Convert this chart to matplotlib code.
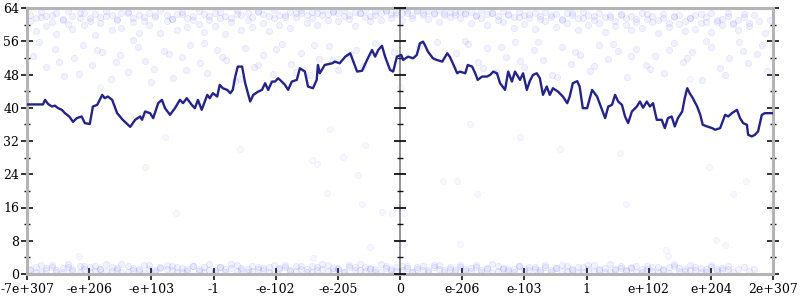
import matplotlib
matplotlib.use("Agg")
import matplotlib.pyplot as plt
import numpy as np

# ---------------- data ----------------
x_tick_labels = ["-7e+307", "-e+206", "-e+103", "-1", "-e-102", "-e-205", "0",
                 "e-206", "e-103", "1", "e+102", "e+204", "2e+307"]
y_ticks_major = [0, 8, 16, 24, 32, 40, 48, 56, 64]
y_ticks_minor = [4, 12, 20, 28, 36, 44, 52, 60]

# line (x in tick-index units along the transformed axis)
line_x = [0, 0.257, 0.29, 0.34, 0.40, 0.45, 0.50, 0.56, 0.61, 0.68, 0.74, 0.80, 0.88, 0.93,
          1.01, 1.06, 1.13, 1.21, 1.25, 1.30, 1.37, 1.45, 1.54, 1.66, 1.74, 1.82, 1.85, 1.90,
          1.98, 2.03, 2.11, 2.17, 2.22, 2.30, 2.38, 2.46, 2.51, 2.57, 2.65, 2.70, 2.75, 2.81,
          2.90, 2.94, 2.99, 3.06, 3.10, 3.15, 3.22, 3.27, 3.31, 3.35, 3.39, 3.46, 3.51, 3.59,
          3.64, 3.72, 3.78, 3.83, 3.88, 3.94, 3.99, 4.04, 4.07, 4.15, 4.20, 4.26, 4.34, 4.39,
          4.47, 4.52, 4.60, 4.66, 4.68, 4.71, 4.79, 4.91, 4.95, 5.03, 5.12, 5.20, 5.24, 5.31,
          5.39, 5.47, 5.55, 5.60, 5.65, 5.71, 5.76, 5.84, 5.89, 5.95, 6.02, 6.05, 6.13, 6.21,
          6.27, 6.32, 6.37, 6.40, 6.45, 6.53, 6.59, 6.68, 6.76, 6.80, 6.85, 6.92, 6.96, 7.05,
          7.09, 7.16, 7.21, 7.25, 7.32, 7.40, 7.45, 7.50, 7.56, 7.61, 7.69, 7.74, 7.80, 7.85,
          7.93, 7.98, 8.04, 8.09, 8.14, 8.20, 8.25, 8.30, 8.36, 8.41, 8.46, 8.54, 8.62, 8.69,
          8.73, 8.78, 8.85, 8.89, 8.94, 9.01, 9.09, 9.17, 9.25, 9.30, 9.35, 9.41, 9.46, 9.51,
          9.57, 9.62, 9.67, 9.73, 9.81, 9.86, 9.91, 9.97, 10.02, 10.07, 10.13, 10.21, 10.26,
          10.31, 10.37, 10.42, 10.47, 10.54, 10.58, 10.62, 10.66, 10.71, 10.78, 10.83, 10.87,
          10.94, 11.02, 11.07, 11.15, 11.23, 11.28, 11.34, 11.42, 11.47, 11.52, 11.58, 11.60,
          11.66, 11.71, 11.76, 11.82, 11.87, 12.0]
line_y = [40.8, 40.8, 41.9, 40.9, 40.3, 40.5, 39.9, 39.5, 38.7, 37.9, 36.6, 37.5, 37.9, 36.3,
          36.1, 40.3, 40.7, 43.1, 42.3, 42.7, 41.9, 38.7, 37.1, 35.4, 37.1, 37.9, 37.1, 39.1,
          38.7, 37.5, 41.1, 41.9, 39.9, 38.3, 39.9, 41.9, 41.1, 42.3, 40.7, 39.9, 41.9, 39.5,
          43.1, 42.3, 43.5, 42.7, 45.5, 44.7, 44.3, 43.5, 44.3, 47.5, 49.9, 49.9, 45.9, 41.5,
          43.1, 43.9, 44.3, 45.9, 44.3, 46.3, 46.3, 47.1, 46.7, 45.5, 44.3, 46.3, 46.7, 49.5,
          48.7, 45.1, 44.7, 46.7, 50.3, 48.3, 50.3, 50.7, 51.1, 50.7, 52.3, 53.1, 51.5, 48.7,
          48.9, 51.5, 53.9, 52.3, 53.9, 54.9, 52.3, 49.1, 48.7, 52.3, 52.7, 51.5, 52.3, 51.9,
          52.7, 55.5, 55.9, 55.1, 53.5, 51.9, 51.5, 51.1, 53.1, 52.3, 50.7, 48.3, 48.7, 48.3,
          50.3, 49.9, 48.3, 46.7, 47.5, 47.5, 47.9, 48.7, 48.3, 45.9, 44.3, 48.7, 46.3, 48.7,
          46.7, 48.3, 44.3, 46.5, 47.9, 48.3, 47.1, 43.1, 45.1, 43.1, 44.7, 43.9, 42.7, 41.1,
          42.7, 45.9, 46.4, 45.1, 39.9, 39.9, 44.3, 42.7, 39.5, 37.5, 40.3, 40.7, 43.1, 41.5,
          40.7, 37.9, 36.3, 39.1, 40.3, 41.5, 40.0, 41.5, 40.3, 41.1, 37.1, 37.1, 35.1,
          37.5, 37.9, 35.5, 37.5, 39.1, 42.3, 44.7, 43.5, 42.3, 40.3, 38.3, 35.9,
          35.5, 35.1, 34.7, 35.1, 38.3, 37.9, 38.7, 39.5, 37.5, 36.3, 35.9, 33.5,
          33.1, 33.5, 34.3, 38.3, 38.7, 38.7]

# scattered points: dense band near the top
top_x = [0.05, 0.15, 0.22, 0.31, 0.4, 0.47, 0.58, 0.66, 0.73, 0.85, 0.92, 1.02, 1.1, 1.18, 1.27,
         1.36, 1.45, 1.52, 1.63, 1.7, 1.8, 1.88, 1.97, 2.06, 2.14, 2.25, 2.33, 2.41, 2.5, 2.58,
         2.67, 2.76, 2.84, 2.93, 3.02, 3.1, 3.19, 3.28, 3.37, 3.45, 3.55, 3.62, 3.71, 3.8, 3.9,
         3.97, 4.06, 4.15, 4.23, 4.33, 4.41, 4.5, 4.58, 4.67, 4.75, 4.84, 4.92, 5.01, 5.1, 5.18,
         5.27, 5.35, 5.44, 5.52, 5.6, 5.69, 5.77, 5.86, 5.94, 6.03, 6.11, 6.2, 6.28, 6.37, 6.45,
         6.54, 6.62, 6.71, 6.8, 6.88, 6.97, 7.05, 7.14, 7.22, 7.31, 7.4, 7.48, 7.57, 7.65, 7.74,
         7.83, 7.91, 8.0, 8.08, 8.17, 8.26, 8.34, 8.43, 8.51, 8.6, 8.69, 8.77, 8.86, 8.94, 9.03,
         9.12, 9.2, 9.29, 9.37, 9.46, 9.55, 9.63, 9.72, 9.8, 9.89, 9.98, 10.06, 10.15, 10.23,
         10.32, 10.41, 10.49, 10.58, 10.66, 10.75, 10.84, 10.92, 11.01, 11.1, 11.18, 11.27,
         11.35, 11.44, 11.53, 11.61, 11.7, 11.78, 11.87, 11.95]
top_y1 = [60.8, 58.4, 61.9, 59.6, 62.4, 57.8, 61.1, 60.2, 58.9, 62.7, 59.9, 61.6, 57.5, 60.4,
          62.1, 58.7, 61.3, 59.2, 62.9, 60.6, 58.1, 61.8, 59.8, 62.3, 57.9, 60.9, 61.4, 58.6,
          62.6, 59.5, 61.0, 60.1, 58.3, 62.0, 59.7, 61.7, 57.7, 60.7, 62.5, 58.8, 61.2, 59.4,
          63.0, 60.3, 58.5, 61.5, 60.0, 62.2, 59.1, 61.9, 62.8, 60.5, 61.6, 59.9, 62.4, 61.1,
          63.1, 60.8, 62.0, 61.4, 59.6, 62.7, 61.8, 60.9, 62.3, 61.2, 63.2, 61.7, 62.5, 61.0,
          62.9, 61.6, 63.3, 62.2, 61.3, 62.8, 60.7, 62.4, 61.9, 63.0, 61.5, 62.6, 60.4, 62.1,
          61.7, 59.8, 62.8, 61.2, 60.6, 62.3, 59.3, 61.8, 60.1, 62.6, 58.9, 61.4, 60.8, 62.2,
          59.5, 61.1, 60.3, 62.7, 58.6, 61.6, 59.9, 62.0, 60.5, 58.2, 61.9, 59.7, 62.4, 60.0,
          58.8, 61.3, 59.2, 62.5, 60.7, 57.9, 61.7, 59.4, 62.1, 60.2, 58.5, 61.5, 59.0, 62.6,
          60.6, 58.3, 61.2, 59.8, 62.9, 60.4, 58.7, 61.8, 59.6, 62.3, 60.9, 58.1, 61.0]
top_y2 = [62.4, 61.7, 63.0, 62.1, 60.6, 62.8, 61.3, 63.2, 62.0, 61.5, 62.9, 60.9, 62.5, 61.8,
          63.3, 62.2, 61.1, 62.7, 63.1, 61.6, 62.4, 60.8, 62.9, 61.9, 63.4, 62.3, 61.4, 62.6,
          63.0, 61.7, 62.1, 63.3, 62.5, 61.2, 62.8, 63.1, 62.0, 61.6, 63.4, 62.4, 62.9, 61.8,
          63.2, 62.6, 62.1, 63.5, 62.3, 61.9, 63.0, 62.7, 63.4, 62.2, 63.1, 62.8, 63.5, 62.5,
          63.2, 62.9, 63.6, 62.4, 63.0, 62.7, 63.5, 62.1, 63.3, 62.9, 63.6, 62.6, 63.1, 62.8,
          63.5, 62.3, 63.4, 62.9, 63.2, 62.5, 63.6, 62.7, 63.0, 62.4, 63.3, 62.8, 63.1, 62.2,
          63.5, 62.6, 62.9, 62.0, 63.2, 62.5, 61.8, 63.0, 62.3, 61.6, 62.8, 62.1, 63.1, 61.9,
          62.6, 61.4, 62.9, 62.2, 61.7, 63.0, 62.4, 61.1, 62.7, 61.8, 62.3, 60.9, 62.5, 61.5,
          62.0, 60.7, 62.8, 61.3, 62.1, 61.0, 62.6, 60.5, 61.9, 62.4, 60.8, 61.6, 62.2, 60.3,
          61.8, 62.7, 60.6, 61.4, 62.0, 60.1, 61.2, 62.5, 60.4]

# sparser band between about 46 and 56
mid_x = [0.1, 0.3, 0.45, 0.6, 0.75, 0.9, 1.05, 1.2, 1.35, 1.5, 1.62, 1.78, 1.9, 2.05, 2.2, 2.35,
         2.5, 2.62, 2.78, 2.9, 3.05, 3.2, 3.35, 3.5, 3.65, 3.8, 3.95, 4.1, 4.25, 4.4, 4.55, 4.7,
         4.85, 5.0, 5.2, 5.4, 5.6, 5.9, 6.3, 6.6, 6.9, 7.1, 7.25, 7.4, 7.55, 7.7, 7.85, 8.0,
         8.15, 8.3, 8.45, 8.6, 8.75, 8.9, 9.05, 9.2, 9.35, 9.5, 9.65, 9.8, 9.95, 10.1, 10.25,
         10.4, 10.55, 10.7, 10.85, 11.0, 11.15, 11.3, 11.45, 11.6, 11.75, 11.9]
mid_y = [52.5, 49.8, 54.1, 47.6, 51.9, 55.2, 50.3, 53.4, 46.9, 52.8, 48.7, 54.6, 51.2, 49.4,
         53.7, 47.2, 52.1, 55.0, 50.8, 48.3, 53.9, 51.5, 46.4, 54.3, 49.9, 52.7, 48.1, 55.4,
         50.6, 53.2, 47.8, 51.7, 54.8, 49.2, 52.9, 50.1, 55.6, 53.5, 54.9, 55.8, 53.1, 55.3,
         50.9, 54.4, 48.6, 52.3, 55.7, 49.7, 53.8, 51.4, 47.9, 54.7, 50.5, 52.6, 48.9, 55.1,
         51.8, 53.6, 47.4, 54.2, 50.2, 52.4, 48.4, 55.5, 51.0, 53.3, 46.7, 54.5, 49.6, 52.0,
         55.9, 50.7, 53.0, 48.8]
mid2_x = [0.2, 0.52, 0.83, 1.13, 1.43, 1.7, 2.0, 2.28, 2.56, 2.85, 3.13, 3.42, 3.72, 4.0, 4.32,
          4.62, 4.93, 5.3, 7.05, 7.33, 7.62, 7.93, 8.22, 8.52, 8.82, 9.12, 9.42, 9.72, 10.02,
          10.32, 10.62, 10.92, 11.22, 11.52, 11.82]
mid2_y = [55.7, 50.9, 48.2, 54.0, 51.1, 56.2, 46.2, 53.0, 49.0, 55.5, 52.2, 47.0, 50.4, 54.2,
          48.5, 55.2, 51.6, 53.9, 56.0, 49.5, 54.6, 51.3, 55.8, 47.3, 53.4, 50.0, 55.3, 52.5,
          49.3, 54.0, 51.9, 56.1, 48.0, 53.7, 55.0]

# dense band near zero (same x positions as top band)
bot_y1 = [1.2, 0.6, 2.1, 0.9, 1.7, 0.4, 1.4, 2.3, 0.8, 1.9, 1.1, 0.5, 2.0, 1.3, 0.7, 1.8, 1.0,
          2.4, 0.6, 1.5, 1.2, 0.3, 2.2, 0.9, 1.6, 1.1, 2.0, 0.5, 1.4, 0.8, 1.9, 1.3, 0.6, 2.3,
          1.0, 1.7, 0.4, 1.5, 2.1, 0.9, 1.2, 0.7, 1.8, 1.4, 0.5, 2.2, 1.1, 1.6, 0.8, 2.0, 1.3,
          0.6, 1.9, 1.0, 2.4, 0.7, 1.5, 1.2, 0.4, 2.1, 1.6, 0.9, 1.8, 1.1, 0.5, 2.3, 1.4, 0.8,
          1.7, 1.0, 2.0, 0.6, 1.3, 1.9, 0.9, 2.2, 1.2, 0.5, 1.6, 1.0, 2.1, 0.7, 1.4, 1.8, 0.4,
          1.1, 2.3, 0.8, 1.5, 1.2, 0.6, 2.0, 1.3, 0.9, 1.7, 0.5, 2.2, 1.0, 1.4, 0.7, 1.9, 1.1,
          0.4, 1.6, 2.1, 0.8, 1.3, 0.6, 2.4, 1.0, 1.5, 0.9, 1.8, 0.5, 1.2, 2.0, 0.7, 1.6, 1.1,
          0.3, 1.9, 1.4, 0.8, 2.2, 1.0, 1.5, 0.6, 1.7, 1.2, 0.9, 2.0, 0.5, 1.3, 1.8, 0.7, 1.1]
bot_y2 = [0.9, 1.8, 0.4, 1.5, 2.2, 1.0, 0.6, 1.7, 1.3, 0.5, 2.0, 1.6, 0.8, 1.1, 2.3, 0.7, 1.4,
          0.5, 1.9, 1.0, 0.8, 2.1, 1.2, 0.6, 1.5, 2.2, 0.9, 1.7, 0.4, 1.3, 2.0, 0.7, 1.6, 1.0,
          0.5, 1.8, 1.2, 2.4, 0.8, 1.4, 0.6, 2.0, 1.1, 0.9, 1.7, 0.5, 1.5, 2.2, 1.0, 0.7, 1.9,
          1.3, 0.4, 1.6, 1.1, 2.1, 0.8, 1.4, 0.6, 1.8, 1.0, 2.3, 0.7, 1.5, 1.2, 0.5, 1.9, 1.1,
          0.8, 2.0, 1.4, 0.6, 1.7, 1.0, 0.4, 1.6, 2.1, 0.9, 1.3, 0.5, 1.8, 1.2, 0.7, 2.2, 1.0,
          1.5, 0.6, 1.9, 1.3, 0.8, 1.1, 2.0, 0.5, 1.6, 1.2, 0.9, 1.8, 0.4, 1.4, 2.1, 0.7, 1.0,
          1.7, 0.6, 1.3, 2.2, 0.9, 1.5, 0.5, 1.1, 1.9, 0.8, 1.4, 2.0, 0.6, 1.2, 1.7, 0.4, 1.0,
          1.6, 2.3, 0.7, 1.3, 0.9, 1.8, 0.5, 1.1, 2.1, 0.8, 1.5, 1.2]

# isolated points
iso_x = [1.90, 2.40, 0.84, 4.58, 4.66, 5.08, 5.32, 4.83, 5.39, 5.71, 5.87, 6.06, 6.06, 5.52,
         4.60, 6.69, 6.92, 7.24, 6.97, 9.54, 10.97, 9.63, 11.36, 11.57, 11.08, 11.23, 10.28,
         10.31, 4.87, 5.44, 3.43, 7.93, 7.13, 6.00, 8.57, 2.22, 1.17, 10.66]
iso_y = [25.7, 14.7, 4.3, 27.4, 26.5, 28.2, 23.8, 19.5, 16.8, 14.9, 14.7, 14.7, 7.2, 6.5,
         3.8, 22.4, 22.4, 19.2, 7.2, 29.0, 25.7, 16.8, 19.2, 22.4, 8.2, 7.0, 5.8, 4.3, 35.0,
         31.0, 30.0, 33.0, 36.0, 45.0, 30.0, 33.0, 45.0, 47.0]

# ---------------- plot ----------------
plt.rcParams['font.family'] = ['DejaVu Serif']
fig = plt.figure(figsize=(8, 3), dpi=100)
ax = fig.add_axes([27 / 800, 1 - 274 / 300, 746 / 800, 266 / 300])

pt_face = (0.15, 0.15, 1.0, 0.06)
pt_edge = (0.15, 0.15, 1.0, 0.09)


def pts(xs, ys, face=pt_face, edge=pt_edge):
    n = min(len(xs), len(ys))
    ax.scatter(xs[:n], ys[:n], s=20, facecolor=face, edgecolor=edge,
               linewidths=0.6, zorder=2, clip_on=True)


pts(top_x, top_y1)
pts(top_x, top_y2)
pts(mid_x, mid_y)
pts(mid2_x, mid2_y)
pts(top_x, bot_y1)
pts(top_x, bot_y2)
pts(iso_x, iso_y, face=(0.15, 0.15, 1.0, 0.035), edge=(0.15, 0.15, 1.0, 0.05))

# central vertical axis at x = 0
ax.axvline(6, color="#7f7f7f", lw=1.2, zorder=3)
ax.plot([6] * len(y_ticks_major), y_ticks_major, ls="none", marker="_", ms=9,
        mew=1.3, color="#111111", zorder=4, clip_on=False)
ax.plot([6] * len(y_ticks_minor), y_ticks_minor, ls="none", marker="_", ms=5,
        mew=1.0, color="#111111", zorder=4, clip_on=False)

n = min(len(line_x), len(line_y))
ax.plot(line_x[:n], line_y[:n], color="#23238a", lw=1.7, zorder=5,
        solid_joinstyle="round")

ax.set_xlim(0, 12)
ax.set_ylim(0, 64)
ax.set_xticks(range(len(x_tick_labels)))
ax.set_xticklabels(x_tick_labels)
ax.set_yticks(y_ticks_major)
ax.set_yticks(y_ticks_minor, minor=True)

for side in ["left", "right", "top", "bottom"]:
    ax.spines[side].set_color("#b4b4b4")
    ax.spines[side].set_linewidth(2.2)

ax.tick_params(axis="both", which="major", direction="inout", length=9, width=1.2,
               color="#111111", labelsize=9, pad=2)
ax.tick_params(axis="y", which="minor", direction="inout", length=5, width=1.0,
               color="#111111")
ax.tick_params(axis="y", which="both", left=True, right=True, labelright=False)
ax.tick_params(axis="x", which="both", top=False, bottom=True)
ax.tick_params(axis="y", which="major", pad=1)

fig.savefig("out.png", dpi=100)
